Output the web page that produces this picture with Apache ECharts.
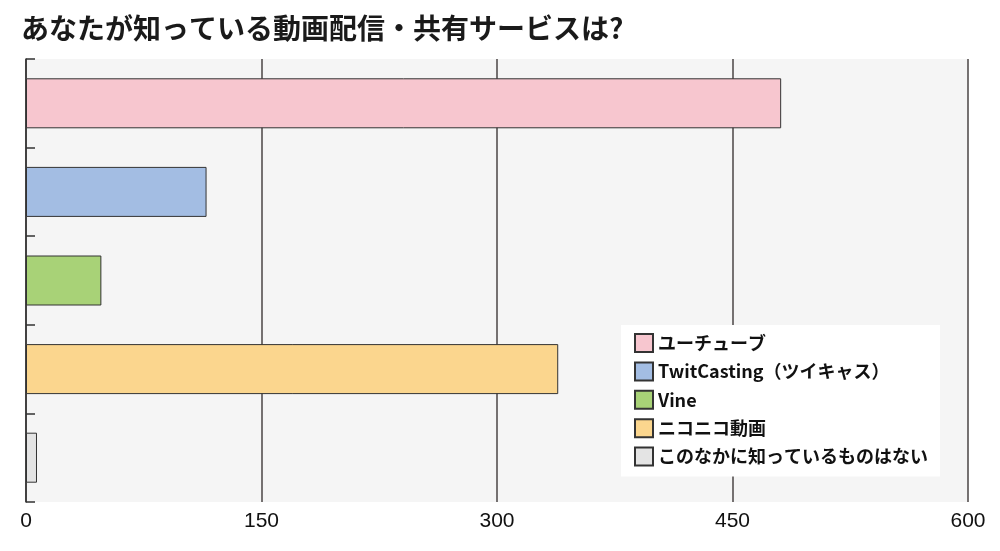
<!DOCTYPE html>
<html>
<head>
<meta charset="utf-8">
<script src="https://cdn.jsdelivr.net/npm/echarts@6/dist/echarts.min.js"></script>
<style>
  html, body { margin: 0; padding: 0; background: #fff; }
  #chart { width: 1000px; height: 551px; }
</style>
</head>
<body>
<div id="chart"></div>
<script>
const titleText = 'あなたが知っている動画配信・共有サービスは?';
const categories = ['ユーチューブ', 'TwitCasting（ツイキャス）', 'Vine', 'ニコニコ動画', 'このなかに知っているものはない'];
const values = [481, 115, 48, 339, 7];
const colors = ['#f7c6cf', '#a3bde3', '#a8d277', '#fbd68e', '#e4e4e4'];
const xTicks = [0, 150, 300, 450, 600];

const font = '"Noto Sans CJK JP", "Noto Sans", sans-serif';

// one series per category so each gets its own legend entry
const series = categories.map((name, i) => ({
  name: name,
  type: 'bar',
  stack: 'all',
  barWidth: 50,
  data: categories.map((c, j) => (j === i ? values[i] : '-')),
  itemStyle: { color: colors[i], borderColor: '#333', borderWidth: 1 },
  emphasis: { disabled: true }
}));

const chart = echarts.init(document.getElementById('chart'));
chart.setOption({
  animation: false,
  textStyle: { fontFamily: font },
  title: {
    text: titleText,
    left: 16,
    top: 9,
    textStyle: { fontSize: 28, fontWeight: 'bold', color: '#1a1a1a', fontFamily: font }
  },
  grid: {
    left: 26,
    right: 32,
    top: 59,
    bottom: 49,
    show: true,
    backgroundColor: '#f5f5f5',
    borderWidth: 0
  },
  legend: {
    orient: 'vertical',
    left: 621,
    top: 325,
    backgroundColor: '#fff',
    padding: [8, 12, 10, 13],
    itemWidth: 18,
    itemHeight: 18,
    itemGap: 8.4,
    icon: 'rect',
    textStyle: { fontSize: 18, lineHeight: 18, fontWeight: 'bold', color: '#111', fontFamily: font },
    data: categories
  },
  xAxis: {
    type: 'value',
    min: xTicks[0],
    max: xTicks[xTicks.length - 1],
    interval: 150,
    axisLine: { show: false },
    axisTick: { show: false },
    axisLabel: { fontSize: 21, color: '#111', margin: 9, fontFamily: '"Liberation Sans", Arial, sans-serif' },
    splitLine: { lineStyle: { color: '#4a4545', width: 1.5 } }
  },
  yAxis: {
    type: 'category',
    inverse: true,
    data: categories,
    axisLine: { show: true, lineStyle: { color: '#333', width: 1.5 } },
    axisTick: { show: true, inside: true, length: 9, lineStyle: { color: '#333', width: 1.5 } },
    axisLabel: { show: false }
  },
  series: series
});
</script>
</body>
</html>
